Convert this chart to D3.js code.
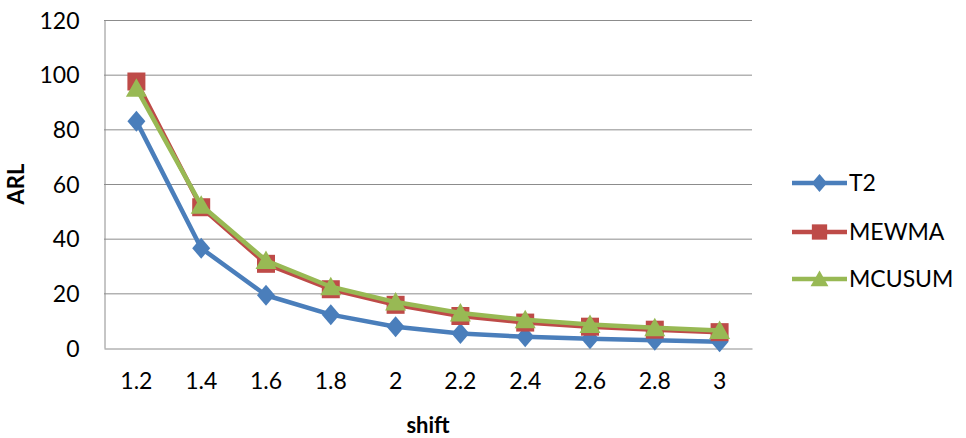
<!DOCTYPE html>
<html>
<head>
<meta charset="utf-8">
<script src="https://cdn.jsdelivr.net/npm/d3@7"></script>
<style>
  html, body { margin: 0; padding: 0; background: #fff; }
  svg text { font-family: Lato, "Open Sans", sans-serif; fill: #000; }
</style>
</head>
<body>
<svg id="chart" width="966" height="438"></svg>
<script>
// Average run length for each shift size
const shifts = ["1.2", "1.4", "1.6", "1.8", "2", "2.2", "2.4", "2.6", "2.8", "3"];
const t2     = [83, 36.5, 19.3, 12.2, 7.8, 5.3, 4.1, 3.4, 2.8, 2.3];
const mewma  = [97.5, 51.5, 30.8, 21.5, 15.8, 11.7, 9.3, 7.8, 6.7, 5.8];
const mcusum = [95, 52.2, 32, 22.4, 16.8, 12.8, 10.3, 8.6, 7.4, 6.4];
const yTicks = [0, 20, 40, 60, 80, 100, 120];

const series = [
  { name: "T2",     values: t2,     color: "#4a7ebb", shape: "diamond" },
  { name: "MEWMA",  values: mewma,  color: "#be4b48", shape: "square" },
  { name: "MCUSUM", values: mcusum, color: "#98b954", shape: "triangle" }
];

const svg = d3.select("#chart");
const plot = { left: 104, right: 752, top: 20, bottom: 348 };

const x = d3.scaleBand().domain(shifts).range([plot.left, plot.right]);
const cx = d => x(d) + x.bandwidth() / 2;
const y = d3.scaleLinear().domain([0, 120]).range([plot.bottom, plot.top]);

// horizontal gridlines
svg.append("g")
  .selectAll("line")
  .data(yTicks.filter(v => v > 0))
  .join("line")
  .attr("x1", plot.left).attr("x2", plot.right)
  .attr("y1", d => y(d) + 0.5).attr("y2", d => y(d) + 0.5)
  .attr("stroke", "#8c8c8c").attr("stroke-width", 1);

// y axis
const yAxis = svg.append("g")
  .attr("transform", `translate(${plot.left + 0.5},0)`)
  .call(d3.axisLeft(y).tickValues(yTicks).tickSize(0).tickPadding(25));
yAxis.select(".domain").attr("stroke", "#8c8c8c");
yAxis.selectAll("text").style("font-size", "23px").attr("dy", "0.35em");

// x axis
const xAxis = svg.append("g")
  .attr("transform", `translate(0,${plot.bottom + 0.5})`)
  .call(d3.axisBottom(x).tickSize(0).tickPadding(24));
xAxis.select(".domain").attr("stroke", "#8c8c8c");
xAxis.selectAll("text").style("font-size", "23px");

// axis titles
svg.append("text")
  .attr("transform", "translate(24,184) rotate(-90)")
  .attr("text-anchor", "middle")
  .style("font-size", "22px").style("font-weight", "bold")
  .text("ARL");
svg.append("text")
  .attr("x", 428).attr("y", 433)
  .attr("text-anchor", "middle")
  .style("font-size", "22px").style("font-weight", "bold")
  .text("shift");

const symbolFor = {
  diamond: "M0,-10.5L9,0L0,10.5L-9,0Z",
  square: "M-9,-9H9V9H-9Z",
  triangle: "M0,-10L10.5,8.5H-10.5Z"
};

const line = d3.line().x((d, i) => cx(shifts[i])).y(d => y(d));

series.forEach(s => {
  const g = svg.append("g");
  g.append("path")
    .attr("d", line(s.values))
    .attr("fill", "none")
    .attr("stroke", s.color)
    .attr("stroke-width", 4.5)
    .attr("stroke-linejoin", "round");
  g.selectAll("path.marker")
    .data(s.values)
    .join("path")
    .attr("class", "marker")
    .attr("d", symbolFor[s.shape])
    .attr("transform", (d, i) => `translate(${cx(shifts[i])},${y(d)})`)
    .attr("fill", s.color);
});

// legend
const legend = svg.append("g");
const legendY = [183, 232, 279];
series.forEach((s, i) => {
  const g = legend.append("g").attr("transform", `translate(792,${legendY[i]})`);
  g.append("line")
    .attr("x1", 0).attr("x2", 55)
    .attr("stroke", s.color).attr("stroke-width", 4.5);
  g.append("path")
    .attr("d", symbolFor[s.shape])
    .attr("transform", "translate(27.5,0) scale(0.85)")
    .attr("fill", s.color);
  g.append("text")
    .attr("x", 57).attr("dy", "0.35em")
    .style("font-size", "23px")
    .text(s.name);
});
</script>
</body>
</html>
